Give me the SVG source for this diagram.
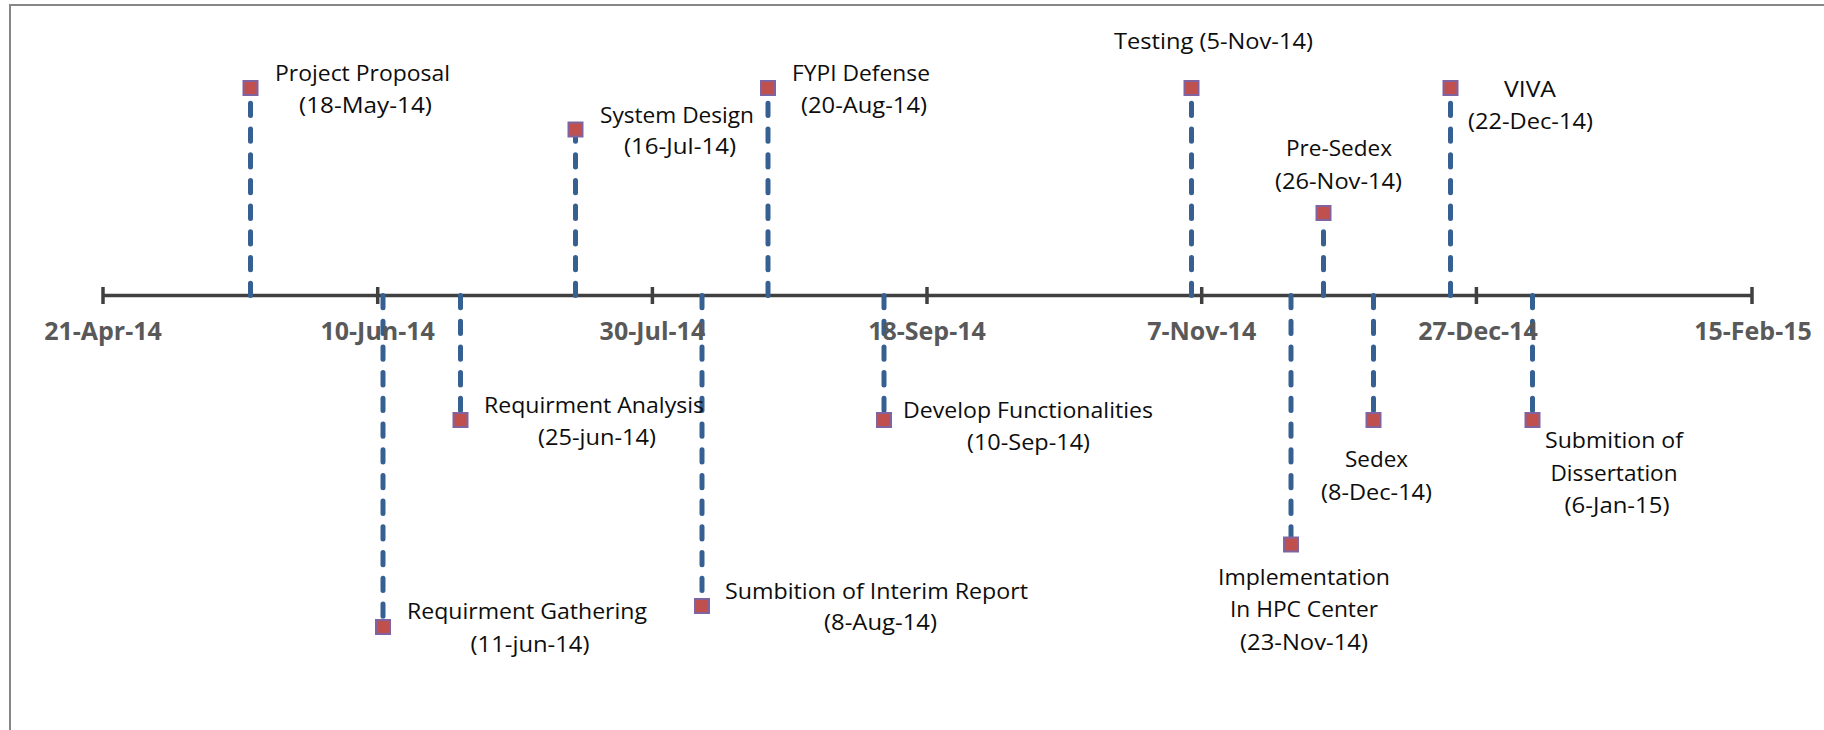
<svg xmlns="http://www.w3.org/2000/svg" width="1824" height="730" viewBox="0 0 1824 730">
  <defs>
    <style>
      .frame { fill: #ffffff; stroke: #878787; stroke-width: 2; }
      .axis { stroke: #404040; stroke-width: 3.5; fill: none; }
      .tick { stroke: #404040; stroke-width: 3.5; }
      .axis-label { font-family: "Open Sans", "Liberation Sans", sans-serif; font-weight: 700; font-size: 25px; fill: #595959; text-anchor: middle; }
      .stem { stroke: #376092; stroke-width: 5; stroke-linecap: round; stroke-dasharray: 12.3 13.4; fill: none; }
      .marker { fill: #C0504D; stroke: #8064A2; stroke-width: 2; }
      .label { font-family: "Open Sans", "Liberation Sans", sans-serif; font-size: 22px; fill: #0d0d0d; text-anchor: middle; }
    </style>
  </defs>

  <rect width="1824" height="730" fill="#ffffff"/>
  <!-- chart area border (runs off the right and bottom edges) -->
  <rect class="frame" x="10" y="5" width="1830" height="740"/>

  <!-- time axis -->
  <g id="axis">
    <line class="axis" x1="103" y1="295.5" x2="1753" y2="295.5"/>
    <line class="tick" x1="103" y1="287" x2="103" y2="304"/>
    <line class="tick" x1="377.7" y1="287" x2="377.7" y2="304"/>
    <line class="tick" x1="652.4" y1="287" x2="652.4" y2="304"/>
    <line class="tick" x1="927" y1="287" x2="927" y2="304"/>
    <line class="tick" x1="1201.7" y1="287" x2="1201.7" y2="304"/>
    <line class="tick" x1="1476.4" y1="287" x2="1476.4" y2="304"/>
    <line class="tick" x1="1752" y1="287" x2="1752" y2="304"/>
  </g>

  <!-- dashed stems from the axis to each milestone -->
  <g id="connectors">
    <line class="stem" x1="250.5" y1="295.5" x2="250.5" y2="96"/>
    <line class="stem" x1="383" y1="295.5" x2="383" y2="619"/>
    <line class="stem" x1="460.5" y1="295.5" x2="460.5" y2="412"/>
    <line class="stem" x1="575.5" y1="295.5" x2="575.5" y2="137"/>
    <line class="stem" x1="702" y1="295.5" x2="702" y2="598"/>
    <line class="stem" x1="768" y1="295.5" x2="768" y2="96"/>
    <line class="stem" x1="884" y1="295.5" x2="884" y2="412"/>
    <line class="stem" x1="1191.5" y1="295.5" x2="1191.5" y2="96"/>
    <line class="stem" x1="1291" y1="295.5" x2="1291" y2="537"/>
    <line class="stem" x1="1323.5" y1="295.5" x2="1323.5" y2="220"/>
    <line class="stem" x1="1373.5" y1="295.5" x2="1373.5" y2="412"/>
    <line class="stem" x1="1450.5" y1="295.5" x2="1450.5" y2="96"/>
    <line class="stem" x1="1532.5" y1="295.5" x2="1532.5" y2="412"/>
  </g>

  <!-- axis date labels -->
  <g id="axis-labels">
    <text class="axis-label" x="103" y="340">21-Apr-14</text>
    <text class="axis-label" x="377.7" y="340">10-Jun-14</text>
    <text class="axis-label" x="652.4" y="340">30-Jul-14</text>
    <text class="axis-label" x="927" y="340">18-Sep-14</text>
    <text class="axis-label" x="1201.7" y="340">7-Nov-14</text>
    <text class="axis-label" x="1478" y="340">27-Dec-14</text>
    <text class="axis-label" x="1753" y="340">15-Feb-15</text>
  </g>

  <!-- milestones -->
  <g id="project-proposal">
    <rect class="marker" x="243.5" y="81" width="14" height="14"/>
    <text class="label" x="362.5" y="81" textLength="175" lengthAdjust="spacingAndGlyphs">Project Proposal</text>
    <text class="label" x="365.5" y="113" textLength="133" lengthAdjust="spacingAndGlyphs">(18-May-14)</text>
  </g>

  <g id="requirment-gathering">
    <rect class="marker" x="376" y="620" width="14" height="14"/>
    <text class="label" x="527" y="619" textLength="240" lengthAdjust="spacingAndGlyphs">Requirment Gathering</text>
    <text class="label" x="530" y="652" textLength="119" lengthAdjust="spacingAndGlyphs">(11-jun-14)</text>
  </g>

  <g id="requirment-analysis">
    <rect class="marker" x="453.5" y="413" width="14" height="14"/>
    <text class="label" x="594" y="413" textLength="220" lengthAdjust="spacingAndGlyphs">Requirment Analysis</text>
    <text class="label" x="597" y="445" textLength="118" lengthAdjust="spacingAndGlyphs">(25-jun-14)</text>
  </g>

  <g id="system-design">
    <rect class="marker" x="568.5" y="122.5" width="14" height="14"/>
    <text class="label" x="677" y="123" textLength="154" lengthAdjust="spacingAndGlyphs">System Design</text>
    <text class="label" x="680" y="154" textLength="112" lengthAdjust="spacingAndGlyphs">(16-Jul-14)</text>
  </g>

  <g id="interim-report">
    <rect class="marker" x="695" y="599" width="14" height="14"/>
    <text class="label" x="876.5" y="599" textLength="303" lengthAdjust="spacingAndGlyphs">Sumbition of Interim Report</text>
    <text class="label" x="880.5" y="630" textLength="113" lengthAdjust="spacingAndGlyphs">(8-Aug-14)</text>
  </g>

  <g id="fypi-defense">
    <rect class="marker" x="761" y="81" width="14" height="14"/>
    <text class="label" x="861" y="81" textLength="138" lengthAdjust="spacingAndGlyphs">FYPI Defense</text>
    <text class="label" x="864" y="113" textLength="126" lengthAdjust="spacingAndGlyphs">(20-Aug-14)</text>
  </g>

  <g id="develop-functionalities">
    <rect class="marker" x="877" y="413" width="14" height="14"/>
    <text class="label" x="1028" y="418" textLength="250" lengthAdjust="spacingAndGlyphs">Develop Functionalities</text>
    <text class="label" x="1028.5" y="450" textLength="123" lengthAdjust="spacingAndGlyphs">(10-Sep-14)</text>
  </g>

  <g id="testing">
    <rect class="marker" x="1184.5" y="81" width="14" height="14"/>
    <text class="label" x="1213.5" y="49" textLength="199" lengthAdjust="spacingAndGlyphs">Testing (5-Nov-14)</text>
  </g>

  <g id="implementation">
    <rect class="marker" x="1284" y="537.5" width="14" height="14"/>
    <text class="label" x="1304" y="585" textLength="172" lengthAdjust="spacingAndGlyphs">Implementation</text>
    <text class="label" x="1304" y="617" textLength="148" lengthAdjust="spacingAndGlyphs">In HPC Center</text>
    <text class="label" x="1304" y="650" textLength="128" lengthAdjust="spacingAndGlyphs">(23-Nov-14)</text>
  </g>

  <g id="pre-sedex">
    <rect class="marker" x="1316.5" y="206" width="14" height="14"/>
    <text class="label" x="1339" y="156" textLength="106" lengthAdjust="spacingAndGlyphs">Pre-Sedex</text>
    <text class="label" x="1338.5" y="189" textLength="127" lengthAdjust="spacingAndGlyphs">(26-Nov-14)</text>
  </g>

  <g id="sedex">
    <rect class="marker" x="1366.5" y="413" width="14" height="14"/>
    <text class="label" x="1376.5" y="467" textLength="63" lengthAdjust="spacingAndGlyphs">Sedex</text>
    <text class="label" x="1376.5" y="500" textLength="111" lengthAdjust="spacingAndGlyphs">(8-Dec-14)</text>
  </g>

  <g id="viva">
    <rect class="marker" x="1443.5" y="81" width="14" height="14"/>
    <text class="label" x="1530" y="97" textLength="52" lengthAdjust="spacingAndGlyphs">VIVA</text>
    <text class="label" x="1530.5" y="129" textLength="125" lengthAdjust="spacingAndGlyphs">(22-Dec-14)</text>
  </g>

  <g id="dissertation">
    <rect class="marker" x="1525.5" y="413" width="14" height="14"/>
    <text class="label" x="1614" y="448" textLength="138" lengthAdjust="spacingAndGlyphs">Submition of</text>
    <text class="label" x="1614" y="481" textLength="127" lengthAdjust="spacingAndGlyphs">Dissertation</text>
    <text class="label" x="1617" y="513" textLength="105" lengthAdjust="spacingAndGlyphs">(6-Jan-15)</text>
  </g>
</svg>
